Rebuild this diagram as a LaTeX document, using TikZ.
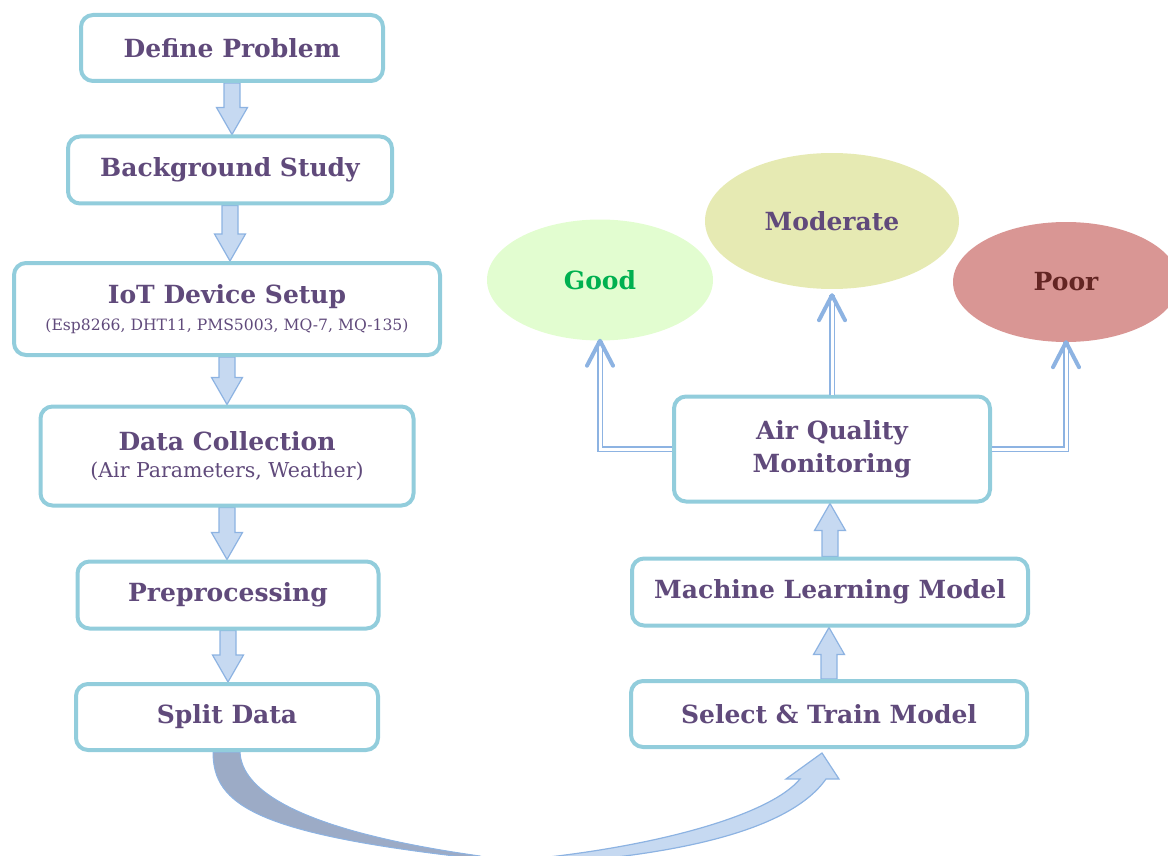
\documentclass[tikz,border=0pt]{standalone}
\usepackage{fontspec}
\setmainfont{DejaVu Serif}
\usetikzlibrary{shapes.geometric,calc,backgrounds}
\definecolor{bord}{HTML}{92CDDC}
\definecolor{txt}{HTML}{604A7B}
\definecolor{afill}{HTML}{C6D9F1}
\definecolor{aline}{HTML}{8DB3E2}
\definecolor{dkfill}{HTML}{9CABC6}
\definecolor{goodfill}{HTML}{E2FDD0}
\definecolor{goodtxt}{HTML}{00B050}
\definecolor{modfill}{HTML}{E6EAB3}
\definecolor{poorfill}{HTML}{D99694}
\definecolor{poortxt}{HTML}{632523}
\newcommand\downblk[2]{\path[barrow] let \p1=(#1), \p2=(#2) in
  (\x1-8pt,\y1) -- (\x1-8pt,\y2+27pt) -- (\x1-15.5pt,\y2+27pt) -- (\x1,\y2) --
  (\x1+15.5pt,\y2+27pt) -- (\x1+8pt,\y2+27pt) -- (\x1+8pt,\y1) -- cycle;}
\newcommand\upblk[2]{\path[barrow] let \p1=(#1), \p2=(#2) in
  (\x1-8pt,\y1) -- (\x1-8pt,\y2-27pt) -- (\x1-15.5pt,\y2-27pt) -- (\x1,\y2) --
  (\x1+15.5pt,\y2-27pt) -- (\x1+8pt,\y2-27pt) -- (\x1+8pt,\y1) -- cycle;}
\begin{document}
\begin{tikzpicture}[x=1pt,y=-1pt,
  box/.style={draw=bord, line width=4pt, rounded corners=12pt, fill=white,
    text=txt, align=center, inner sep=0pt},
  main/.style={font=\fontsize{25}{33}\selectfont\bfseries},
  barrow/.style={draw=aline, fill=afill, line width=1.2pt, line join=miter},
  dbl/.style={draw=aline, line width=1.4pt, double=white, double distance=3pt},
  chev/.style={draw=aline, line width=4pt, line cap=round, line join=round},
  oval/.style={ellipse, inner sep=0pt, font=\fontsize{25}{30}\selectfont\bfseries}]
\useasboundingbox (0,0) rectangle (1168,856);

% left column
\node[box, main, minimum width=302, minimum height=66] (def) at (232,48) {Define Problem};
\node[box, main, minimum width=324, minimum height=67] (bg) at (230,170) {Background Study};
\node[box, minimum width=426, minimum height=92] (iot) at (227,309)
  {{\fontsize{25}{30}\selectfont\bfseries IoT Device Setup}\\[9pt]{\fontsize{15.6}{18}\selectfont (Esp8266, DHT11, PMS5003, MQ-7, MQ-135)}};
\node[box, minimum width=373, minimum height=99] (dc) at (227,456)
  {{\fontsize{25}{30}\selectfont\bfseries Data Collection}\\[10pt]{\fontsize{20.5}{24}\selectfont (Air Parameters, Weather)}};
\node[box, main, minimum width=301, minimum height=67] (pre) at (228,595) {Preprocessing};
\node[box, main, minimum width=302, minimum height=66] (split) at (227,717) {Split Data};

% right column
\node[box, main, minimum width=316, minimum height=105] (aqm) at (832,449) {Air Quality\\Monitoring};
\node[box, main, minimum width=396, minimum height=67] (ml) at (830,592) {Machine Learning Model};
\node[box, main, minimum width=396, minimum height=66] (sel) at (829,714) {Select \& Train Model};

% ellipses
\node[oval, fill=goodfill, text=goodtxt, minimum width=226, minimum height=121] (good) at (600,280) {Good};
\node[oval, fill=modfill, text=txt, minimum width=254, minimum height=136] (mod) at (832,221) {Moderate};
\node[oval, fill=poorfill, text=poortxt, minimum width=226, minimum height=120] (poor) at (1066,282) {Poor};

\begin{scope}[on background layer]
% block arrows
\downblk{def.south}{bg.north}
\downblk{bg.south}{iot.north}
\downblk{iot.south}{dc.north}
\downblk{dc.south}{pre.north}
\downblk{pre.south}{split.north}
\upblk{sel.north}{ml.south}
\upblk{ml.north}{aqm.south}
% big curved arrow from split to sel
\fill[dkfill, draw=aline, line width=1pt] ($(split.south)+(-14,0)$) .. controls (213,805) and (255,835) .. (490,860)
  -- (480,856) .. controls (330,835) and (242,800) .. ($(split.south)+(13,0)$) -- cycle;
\fill[afill, draw=aline, line width=1.2pt, line join=miter] (800,779) -- (786,779) -- ($(sel.south)+(-7,4)$) -- (839,779) -- (826,779)
  .. controls (790,830) and (680,855) .. (540,864) -- (540,858)
  .. controls (660,845) and (770,815) .. (800,779) -- cycle;
\end{scope}

% double arrows
\draw[dbl] (aqm.west) -| (good.south);
\draw[chev] ($(good.south)+(-13,25)$) -- (good.south) -- ($(good.south)+(13,25)$);
\draw[dbl] (aqm.north) -- ($(mod.south)+(0,6)$);
\draw[chev] ($(mod.south)+(-13,31)$) -- ($(mod.south)+(0,6)$) -- ($(mod.south)+(13,31)$);
\draw[dbl] (aqm.east) -| (poor.south);
\draw[chev] ($(poor.south)+(-13,25)$) -- (poor.south) -- ($(poor.south)+(13,25)$);
\end{tikzpicture}
\end{document}
